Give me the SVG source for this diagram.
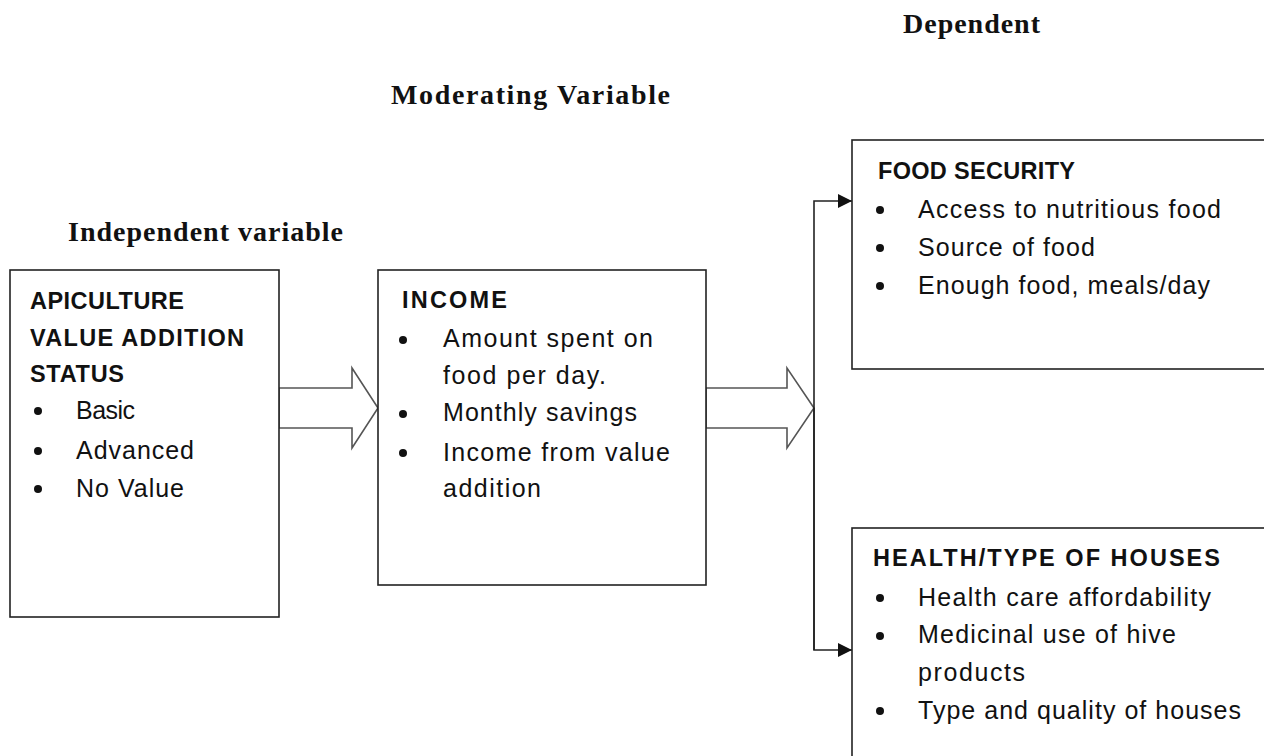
<svg xmlns="http://www.w3.org/2000/svg" width="1264" height="756" viewBox="0 0 1264 756">
  <style>
    .box { fill: #fff; stroke: #222; stroke-width: 1.6; }
    .block { fill: #fff; stroke: #555; stroke-width: 1.6; stroke-linejoin: miter; }
    .wire { fill: none; stroke: #222; stroke-width: 1.6; }
    .hdr { font-family: "Liberation Serif", "Times New Roman", serif; font-weight: bold; font-size: 28px; fill: #111; }
    .t { font-family: "Liberation Sans", Arial, sans-serif; font-size: 25px; fill: #111; }
    .b { font-weight: bold; font-size: 23.5px; }
    .dot { fill: #111; }
  </style>
  <defs>
    <marker id="tri" viewBox="0 0 14 14" refX="14" refY="7" markerWidth="14" markerHeight="14" markerUnits="userSpaceOnUse" orient="auto">
      <path d="M0,0 L14,7 L0,14 Z" fill="#111"/>
    </marker>
  </defs>

  <!-- section headings -->
  <text class="hdr" x="903" y="33" textLength="137" lengthAdjust="spacing">Dependent</text>
  <text class="hdr" x="391" y="104" textLength="279" lengthAdjust="spacing">Moderating  Variable</text>
  <text class="hdr" x="68" y="241" textLength="275" lengthAdjust="spacing">Independent variable</text>

  <!-- connectors -->
  <g id="connectors">
    <path class="block" d="M279,388 H352 V368 L378,408 L352,448 V428 H279 Z"/>
    <path class="block" d="M706,388 H787 V368 L814,408 L787,448 V428 H706 Z"/>
    <path class="wire" d="M814,650 V201 H852" marker-end="url(#tri)"/>
    <path class="wire" d="M814,408 V650 H852" marker-end="url(#tri)"/>
  </g>

  <!-- independent variable -->
  <g id="apiculture">
    <rect class="box" x="10" y="270" width="269" height="347"/>
    <text class="t b" x="30" y="309" textLength="154" lengthAdjust="spacing">APICULTURE</text>
    <text class="t b" x="30" y="346" textLength="214" lengthAdjust="spacing">VALUE ADDITION</text>
    <text class="t b" x="30" y="382" textLength="94" lengthAdjust="spacing">STATUS</text>
    <circle class="dot" cx="38" cy="411" r="4"/>
    <text class="t" x="76" y="419" textLength="59" lengthAdjust="spacing">Basic</text>
    <circle class="dot" cx="38" cy="451" r="4"/>
    <text class="t" x="76" y="459" textLength="118" lengthAdjust="spacing">Advanced</text>
    <circle class="dot" cx="38" cy="489" r="4"/>
    <text class="t" x="76" y="497" textLength="108" lengthAdjust="spacing">No Value</text>
  </g>

  <!-- moderating variable -->
  <g id="income">
    <rect class="box" x="378" y="270" width="328" height="315"/>
    <text class="t b" x="402" y="308" textLength="105" lengthAdjust="spacing">INCOME</text>
    <circle class="dot" cx="403" cy="340" r="4"/>
    <text class="t" x="443" y="347" textLength="210" lengthAdjust="spacing">Amount spent on</text>
    <text class="t" x="443" y="384" textLength="163" lengthAdjust="spacing">food per day.</text>
    <circle class="dot" cx="403" cy="414" r="4"/>
    <text class="t" x="443" y="421" textLength="194" lengthAdjust="spacing">Monthly savings</text>
    <circle class="dot" cx="403" cy="453" r="4"/>
    <text class="t" x="443" y="461" textLength="227" lengthAdjust="spacing">Income from value</text>
    <text class="t" x="443" y="497" textLength="98" lengthAdjust="spacing">addition</text>
  </g>

  <!-- dependent variables -->
  <g id="food-security">
    <rect class="box" x="852" y="140" width="420" height="229"/>
    <text class="t b" x="878" y="179" textLength="197" lengthAdjust="spacing">FOOD SECURITY</text>
    <circle class="dot" cx="880" cy="210" r="4"/>
    <text class="t" x="918" y="218" textLength="303" lengthAdjust="spacing">Access to nutritious food</text>
    <circle class="dot" cx="880" cy="248" r="4"/>
    <text class="t" x="918" y="256" textLength="177" lengthAdjust="spacing">Source of food</text>
    <circle class="dot" cx="880" cy="286" r="4"/>
    <text class="t" x="918" y="294" textLength="292" lengthAdjust="spacing">Enough food, meals/day</text>
  </g>

  <g id="health-houses">
    <rect class="box" x="852" y="528" width="420" height="240"/>
    <text class="t b" x="873" y="566" textLength="347" lengthAdjust="spacing">HEALTH/TYPE OF HOUSES</text>
    <circle class="dot" cx="880" cy="598" r="4"/>
    <text class="t" x="918" y="606" textLength="293" lengthAdjust="spacing">Health care affordability</text>
    <circle class="dot" cx="880" cy="636" r="4"/>
    <text class="t" x="918" y="643" textLength="258" lengthAdjust="spacing">Medicinal use of hive</text>
    <text class="t" x="918" y="681" textLength="107" lengthAdjust="spacing">products</text>
    <circle class="dot" cx="880" cy="711" r="4"/>
    <text class="t" x="918" y="719" textLength="323" lengthAdjust="spacing">Type and quality of houses</text>
  </g>
</svg>
